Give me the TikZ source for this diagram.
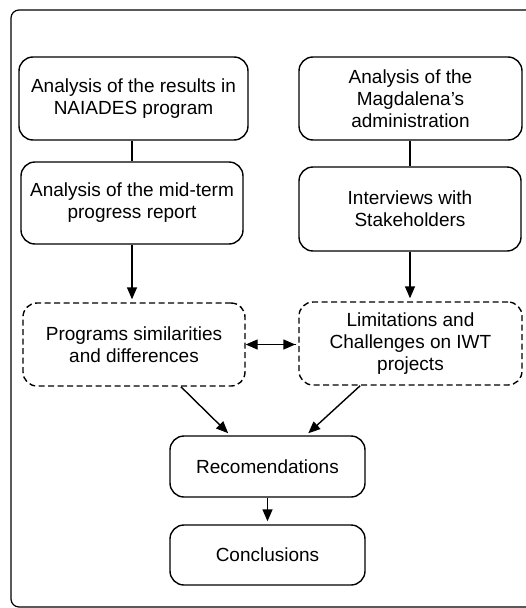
\documentclass[tikz,border=0pt]{standalone}
\usepackage{fontspec}
\setmainfont{Liberation Sans}
\usetikzlibrary{arrows.meta}
\begin{document}
\begin{tikzpicture}[x=1pt, y=-1pt,
    blocco/.style={draw, line width=1.4pt, rounded corners=14pt, align=center, inner sep=2pt, font=\fontsize{19}{22}\selectfont},
    tratteggio/.style={blocco, dash pattern=on 6pt off 3.5pt},
    freccia/.style={-{Triangle[length=12pt,width=10pt]}, line width=1.4pt, shorten >=3pt},
    linea/.style={line width=1.4pt}]
  \useasboundingbox (0,0) rectangle (526,608); % margini della figura
  \clip (0,0) rectangle (526,608);
  \draw[line width=1.2pt, rounded corners=8pt] (11,10) rectangle (545,607); % cornice esterna
  % colonna sinistra
  \node[blocco, minimum width=229pt, minimum height=83pt] (naiades) at (133.5,98.5) {Analysis of the results in\\NAIADES program};
  \node[blocco, minimum width=222pt, minimum height=82pt] (midterm) at (132,203) {Analysis of the mid-term\\progress report};
  \node[tratteggio, minimum width=222pt, minimum height=83pt] (simil) at (134,344.5) {Programs similarities\\and differences};
  % colonna destra
  \node[blocco, minimum width=223pt, minimum height=83pt] (magdalena) at (410.5,98.5) {Analysis of the\\Magdalena’s\\administration};
  \node[blocco, minimum width=222pt, minimum height=84pt] (interviste) at (410,209) {Interviews with\\Stakeholders};
  \node[tratteggio, minimum width=223pt, minimum height=83pt] (limiti) at (410.5,343.5) {Limitations and\\Challenges on IWT\\projects};
  % parte centrale
  \node[blocco, minimum width=195pt, minimum height=61pt] (racc) at (267.5,466.5) {Recomendations};
  \node[blocco, minimum width=195pt, minimum height=60pt] (concl) at (267.5,555) {Conclusions};
  % collegamenti
  \draw[linea] (midterm.north) -- (midterm.north |- naiades.south); % linea senza freccia
  \draw[linea] (interviste.north) -- (interviste.north |- magdalena.south);
  \draw[freccia] (midterm.south) -- (midterm.south |- simil.north);
  \draw[freccia] (interviste.south) -- (interviste.south |- limiti.north);
  \draw[freccia, shorten <=1pt] (simil.east) -- (simil.east -| limiti.west);
  \draw[-{Triangle[length=12pt,width=10pt]}, line width=1.4pt, shorten <=2pt] (limiti.west |- simil.east) -- (simil.east); % doppia freccia
  \draw[freccia] (simil.-42) -- (racc.140);
  \draw[freccia] (limiti.-140) -- (racc.39);
  \draw[freccia] (racc.south) -- (concl.north);
\end{tikzpicture}
\end{document}
